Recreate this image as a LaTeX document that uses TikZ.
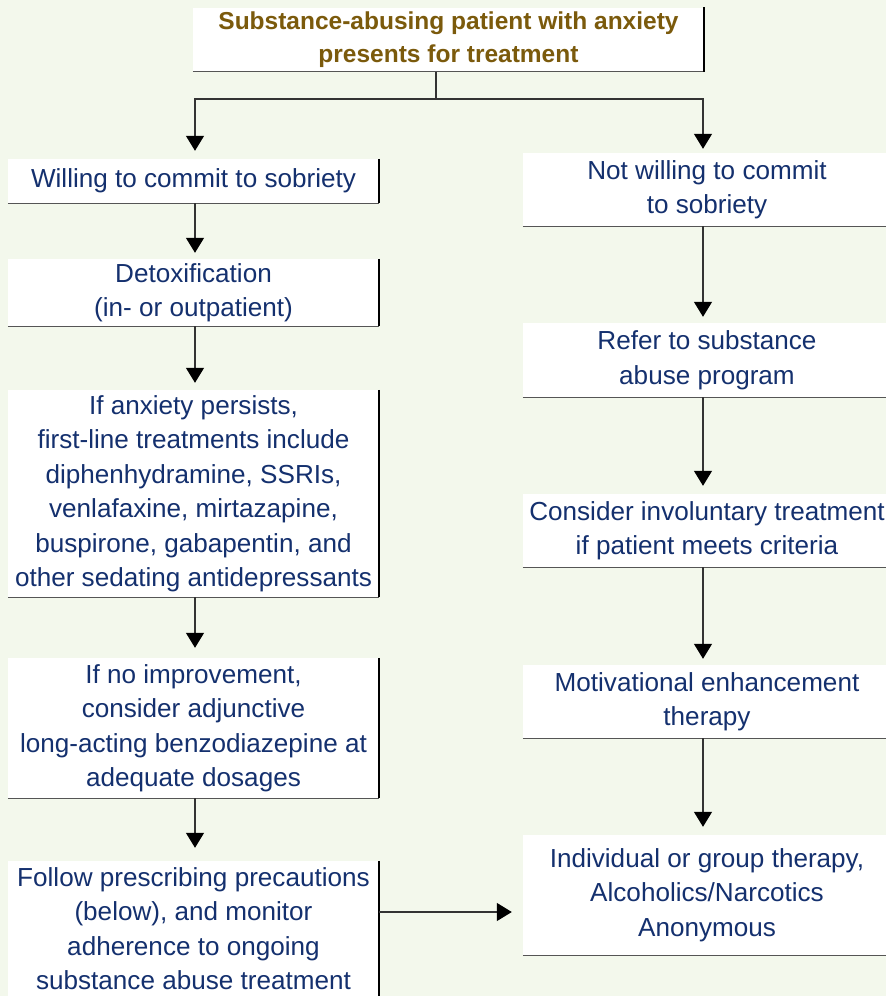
\documentclass[tikz,border=0pt]{standalone}
\usepackage{fontspec}
\setmainfont{Liberation Sans}
\usetikzlibrary{arrows.meta}
\definecolor{bgc}{HTML}{F3F8EC}
\definecolor{navy}{HTML}{14306E}
\definecolor{olivec}{HTML}{7B5A0C}
\definecolor{edgegray}{HTML}{555555}
\definecolor{connc}{HTML}{333333}
\begin{document}
\begin{tikzpicture}[x=1pt,y=-1pt,
  box/.style={rectangle, fill=white, inner sep=0pt, align=center, text=navy,
    font=\fontsize{26.1}{34.5}\selectfont},
  lbox/.style={box, minimum width=371pt},
  rbox/.style={box, minimum width=368pt},
  titlebox/.style={box, text=olivec, font=\bfseries\fontsize{24.5}{33}\selectfont, minimum width=511pt},
  bline/.style={draw=edgegray, line width=1.4pt},
  rline/.style={draw=black, line width=1.6pt},
  conn/.style={draw=connc, line width=1.3pt},
  arr/.style={conn, -{Triangle[width=18pt,length=15pt,fill=black,color=black]}}
]
\fill[bgc] (0,0) rectangle (886,996);
\useasboundingbox (0,0) rectangle (886,996);

% top
\node[titlebox, minimum height=64pt] (top) at (448.5,39.5) {Substance-abusing patient with anxiety\\presents for treatment};

% left column
\node[lbox, minimum height=44pt] (willing) at (193.5,181) {Willing to commit to sobriety};
\node[lbox, minimum height=67pt] (detox) at (193.5,292.5) {Detoxification\\(in- or outpatient)};
\node[lbox, minimum height=207pt] (anx) at (193.5,493.5) {If anxiety persists,\\first-line treatments include\\diphenhydramine, SSRIs,\\venlafaxine, mirtazapine,\\buspirone, gabapentin, and\\other sedating antidepressants};
\node[lbox, minimum height=140pt] (noimp) at (193.5,728) {If no improvement,\\consider adjunctive\\long-acting benzodiazepine at\\adequate dosages};
\node[lbox, minimum height=135pt] (follow) at (193.5,928.5) {Follow prescribing precautions\\(below), and monitor\\adherence to ongoing\\substance abuse treatment};

% right column
\node[rbox, minimum height=73pt] (notwill) at (707,189.5) {Not willing to commit\\to sobriety};
\node[rbox, minimum height=74pt] (refer) at (707,360) {Refer to substance\\abuse program};
\node[rbox, minimum height=73pt] (consider) at (707,530.5) {Consider involuntary treatment\\if patient meets criteria};
\node[rbox, minimum height=73pt] (motiv) at (707,701.5) {Motivational enhancement\\therapy};
\node[rbox, minimum height=120pt] (indiv) at (707,895) {Individual or group therapy,\\Alcoholics/Narcotics\\Anonymous};

% shadow edges
\foreach \n in {top,willing,detox,anx,noimp}{
  \draw[bline] (\n.south west) -- (\n.south east);
  \draw[rline] (\n.north east) -- (\n.south east);
}
\draw[rline] (follow.north east) -- (follow.south east);
\foreach \n in {notwill,refer,consider,motiv,indiv}{
  \draw[bline] (\n.south west) -- (\n.south east);
}

% connectors
\coordinate (L) at (195,0);
\coordinate (R) at (703,0);
\coordinate (split) at (436,99);
\coordinate (hstart) at (379,912);
\draw[conn] (top.south -| split) -- (split);
\draw[arr, shorten >=8pt] (split) -| (willing.north -| L);
\draw[arr, shorten >=4pt] (split) -| (notwill.north -| R);

\draw[arr, shorten >=6pt] (willing.south -| L) -- (detox.north -| L);
\draw[arr, shorten >=7pt] (detox.south -| L) -- (anx.north -| L);
\draw[arr, shorten >=10pt] (anx.south -| L) -- (noimp.north -| L);
\draw[arr, shorten >=13pt] (noimp.south -| L) -- (follow.north -| L);

\draw[arr, shorten >=6pt] (notwill.south -| R) -- (refer.north -| R);
\draw[arr, shorten >=8pt] (refer.south -| R) -- (consider.north -| R);
\draw[arr, shorten >=6pt] (consider.south -| R) -- (motiv.north -| R);
\draw[arr, shorten >=8pt] (motiv.south -| R) -- (indiv.north -| R);

\draw[arr, shorten >=11pt] (hstart) -- (indiv.west |- hstart);
\end{tikzpicture}
\end{document}
